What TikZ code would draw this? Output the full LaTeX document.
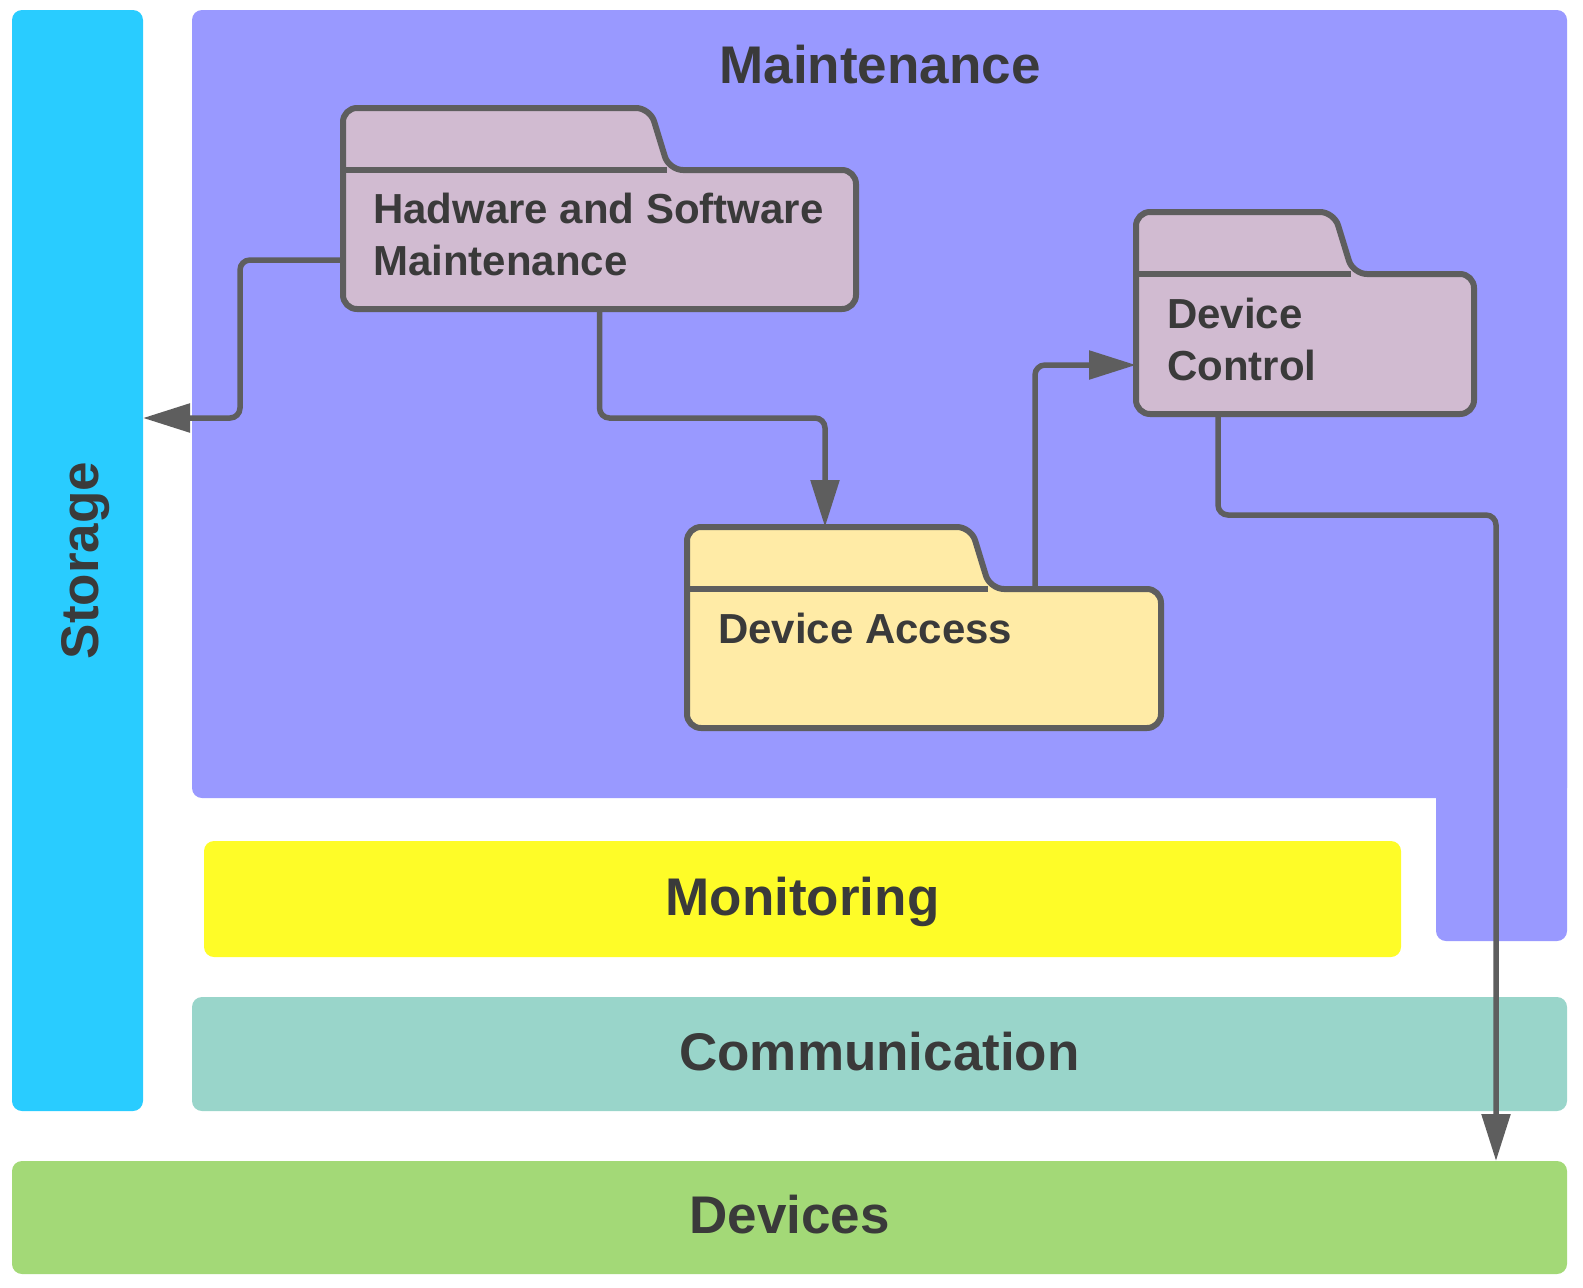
\documentclass[tikz,border=0pt]{standalone}
\usepackage{fontspec}
\setmainfont{Liberation Sans}
\usetikzlibrary{arrows.meta}
\definecolor{storagec}{RGB}{41,204,255}
\definecolor{maintc}{RGB}{153,153,255}
\definecolor{monc}{RGB}{254,252,40}
\definecolor{commc}{RGB}{153,213,202}
\definecolor{devc}{RGB}{163,217,119}
\definecolor{pinkc}{RGB}{209,187,209}
\definecolor{creamc}{RGB}{255,235,166}
\definecolor{linec}{RGB}{94,94,94}
\definecolor{textc}{RGB}{58,58,58}
% name, fill, left, tabtop, divider, tabright, right, bottom
\newcommand\foldershape[8]{%
  \draw[folderline, fill=#2] (#3,#5) -- (#3,#4) -- (#6,#4) -- ({#6+19},#5) -- (#7,#5) -- (#7,#8) -- (#3,#8) -- cycle;
  \draw[draw=linec, line width=6pt] (#3,#5) -- ({#6+17},#5);
  \node[fbox, minimum width={#7-#3}, minimum height={#8-#4}, anchor=north west] (#1) at (#3,#4) {};
  \node[fbox, minimum width={#7-#3}, minimum height={#8-#5}, anchor=north west] (#1b) at (#3,#5) {};
}
\begin{document}
\begin{tikzpicture}[x=1pt,y=-1pt,
  folderline/.style={draw=linec, line width=6pt, rounded corners=14, line join=round},
  fbox/.style={inner sep=0pt, outer sep=0pt},
  band/.style={inner sep=0pt, outer sep=0pt, text height=32pt, text depth=0pt, rounded corners=10,
    font=\fontsize{53}{64}\selectfont\bfseries, text=textc},
  bandlabel/.style={inner sep=0pt, text height=38pt, text depth=0pt,
    font=\fontsize{53}{64}\selectfont\bfseries, text=textc},
  ftext/.style={inner sep=0pt, align=left, font=\fontsize{42}{52}\selectfont\bfseries, text=textc},
  conn/.style={draw=linec, line width=5.5pt, rounded corners=10, -{Triangle[length=47pt,width=28pt]}}
]
\useasboundingbox (0,0) rectangle (1583,1288);

% storage band
\node[band, fill=storagec, minimum width=131, minimum height=1101, anchor=north west] (storage) at (12,10) {};
\node[bandlabel, rotate=90] (storagelabel) at ([xshift=2pt]storage.center) {Storage};

% maintenance area
\fill[maintc, rounded corners=10] (192,10) rectangle (1567,798);
\fill[maintc, rounded corners=10] (1436,700) rectangle (1567,941);
\node[bandlabel, anchor=base] (mainttitle) at (880,83) {Maintenance};

% lower bands
\node[band, fill=monc, minimum width=1197, minimum height=116, anchor=north west] (mon) at (204,841) {Monitoring};
\node[band, fill=commc, minimum width=1375, minimum height=114, anchor=north west] (comm) at (192,997) {Communication};
\node[band, fill=devc, minimum width=1555, minimum height=113, anchor=north west] (dev) at (12,1161) {Devices};

% folders
\foldershape{hw}{pinkc}{343}{108}{170}{650}{856}{309}
\foldershape{dc}{pinkc}{1136}{212}{274}{1334}{1474}{414}
\foldershape{da}{creamc}{687}{527}{589}{971}{1161}{728}

\node[ftext, anchor=base west] (hwt) at (373,275) {Hadware and Software\\Maintenance};
\node[ftext, anchor=base west] (dct) at (1167,380) {Device\\Control};
\node[ftext, anchor=base west] (dat) at (718,643) {Device Access};

% connectors
\draw[conn] (hw.west |- 0,260) -- (240,260) -- (240,418) -- (storage.east |- 0,418);
\draw[conn] (hw.south) -- (hw.south |- 0,418) -- (825,418) -- (825,0 |- da.north);
\draw[conn] (1035,0 |- dab.north) -- (1035,365) -- (dc.west |- 0,365);
\draw[conn] (1218,0 |- dc.south) -- (1218,515) -- (1496,515) -- (1496,0 |- dev.north);
\end{tikzpicture}
\end{document}
